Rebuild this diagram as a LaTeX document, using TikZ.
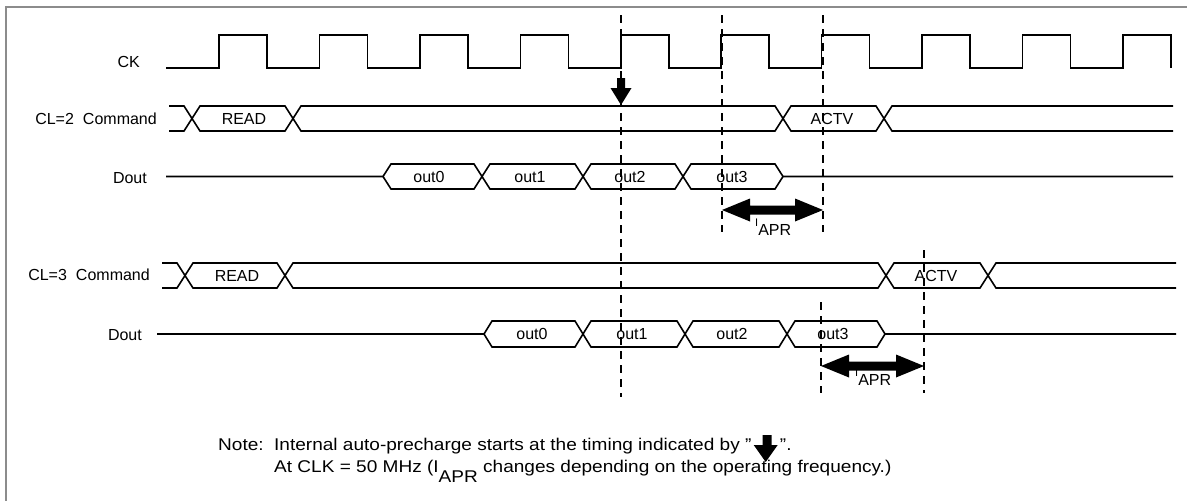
\documentclass[tikz,border=0pt]{standalone}
\usepackage{fontspec}
\setmainfont{Liberation Sans}
\newcommand\myfatarrow[3]{%
  \fill (#1,#3) -- ({#1+28},{#3-11.5}) -- ({#1+28},{#3-4.5}) -- ({#2-28},{#3-4.5}) -- ({#2-28},{#3-11.5}) -- (#2,#3)
    -- ({#2-28},{#3+11.5}) -- ({#2-28},{#3+4.5}) -- ({#1+28},{#3+4.5}) -- ({#1+28},{#3+11.5}) -- cycle;}
\newcommand\myIapr{{\fontsize{11}{11}\selectfont I}\raisebox{-9pt}{APR}}
\newcommand\mywide[1]{\scalebox{1.12}[1]{#1}}
\begin{document}
\begin{tikzpicture}[x=1pt,y=-1pt,
  wave/.style={line width=1.6pt, line join=miter},
  guide/.style={line width=1.1pt, dash pattern=on 8pt off 6pt},
  lbl/.style={font=\fontsize{16}{18}\selectfont, inner sep=0pt},
  notetxt/.style={font=\fontsize{17}{20}\selectfont, inner sep=0pt, anchor=base west},
  frame/.style={draw=black!45, line width=2pt}]
\useasboundingbox (0,0) rectangle (1187,501);
% frame
\draw[frame] (6,501) -- (6,7) -- (1187,7);

% row labels
\node[lbl, anchor=east] (lck)  at (140,62)  {CK};
\node[lbl, anchor=east] (lc2)  at (157,119) {CL=2\hspace{9pt}Command};
\node[lbl, anchor=east] (ld2)  at (147,178) {Dout};
\node[lbl, anchor=east] (lc3)  at (150,275) {CL=3\hspace{9pt}Command};
\node[lbl, anchor=east] (ld3)  at (142,335) {Dout};

% dashed guides
\draw[guide] (621,15) -- (621,397);
\draw[guide] (722,15) -- (722,232);
\draw[guide] (823,15) -- (823,232);
\draw[guide] (821,302) -- (821,393);
\draw[guide] (924,250) -- (924,393);

% CK
\draw[wave] (166,68) foreach \r in {219,319.4,419.9,520.3,620.8,721.2,821.6,922.1,1022.5,1123}
  { -- (\r,68) -- (\r,35) -- ({\r+48},35) -- ({\r+48},68) };

% CL=2 command bus
\draw[wave] (169,106) -- (184,106) -- (200,131) -- (285,131) -- (301,106) -- (775,106) -- (791,131) -- (876,131) -- (892,106) -- (1173,106);
\draw[wave] (169,131) -- (184,131) -- (200,106) -- (285,106) -- (301,131) -- (775,131) -- (791,106) -- (876,106) -- (892,131) -- (1173,131);
\node[lbl] (r2) at (244,119) {READ};
\node[lbl] (a2) at (832,119) {ACTV};

% CL=2 Dout
\draw[wave] (166,176.5) -- (383,176.5) -- (391,164) -- (474,164) -- (490,189) -- (575,189) -- (591,164) -- (675,164) -- (691,189) -- (775,189) -- (783,176.5) -- (1173,176.5);
\draw[wave] (383,176.5) -- (391,189) -- (474,189) -- (490,164) -- (575,164) -- (591,189) -- (675,189) -- (691,164) -- (775,164) -- (783,176.5);
\node[lbl] (o20) at (429,177) {out0};
\node[lbl] (o21) at (530,177) {out1};
\node[lbl] (o22) at (630,177) {out2};
\node[lbl] (o23) at (732,177) {out3};

% CL=3 command bus
\draw[wave] (162,263) -- (177,263) -- (193,288) -- (277,288) -- (293,263) -- (878,263) -- (894,288) -- (980,288) -- (996,263) -- (1176,263);
\draw[wave] (162,288) -- (177,288) -- (193,263) -- (277,263) -- (293,288) -- (878,288) -- (894,263) -- (980,263) -- (996,288) -- (1176,288);
\node[lbl] (r3) at (237,275.5) {READ};
\node[lbl] (a3) at (936,275.5) {ACTV};

% CL=3 Dout
\draw[wave] (157,334) -- (484,334) -- (492,321) -- (575,321) -- (591,347) -- (677,347) -- (693,321) -- (779,321) -- (795,347) -- (877,347) -- (885,334) -- (1176,334);
\draw[wave] (484,334) -- (492,347) -- (575,347) -- (591,321) -- (677,321) -- (693,347) -- (779,347) -- (795,321) -- (877,321) -- (885,334);
\node[lbl] (o30) at (532,334) {out0};
\node[lbl] (o31) at (632,334) {out1};
\node[lbl] (o32) at (732,334) {out2};
\node[lbl] (o33) at (833,334) {out3};

% auto-precharge marker
\fill (617,78) -- (625,78) -- (625,88) -- (631.5,88) -- (621,105) -- (610.5,88) -- (617,88) -- cycle;

% tAPR arrows
\myfatarrow{722}{823}{210}
\node[lbl, anchor=base west] (t1) at (755,226) {\myIapr};
\myfatarrow{821}{924}{366}
\node[lbl, anchor=base west] (t2) at (855,376) {\myIapr};

% note
\node[notetxt] (note) at (218,450) {\mywide{Note:}};
\node[notetxt] (n1) at (274,450) {\mywide{Internal auto-precharge starts at the timing indicated by "}};
\fill[shift={(n1.base east)}] (11,-15) -- (20,-15) -- (20,-5) -- (26,-5) -- (14,12) -- (2,-5) -- (11,-5) -- cycle;
\node[notetxt] (n2) at ([xshift=28pt]n1.base east) {\mywide{".}};
\node[notetxt] (n3) at (274,472) {\mywide{At CLK = 50 MHz (I\raisebox{-10pt}{APR} changes depending on the operating frequency.)}};
\end{tikzpicture}
\end{document}
